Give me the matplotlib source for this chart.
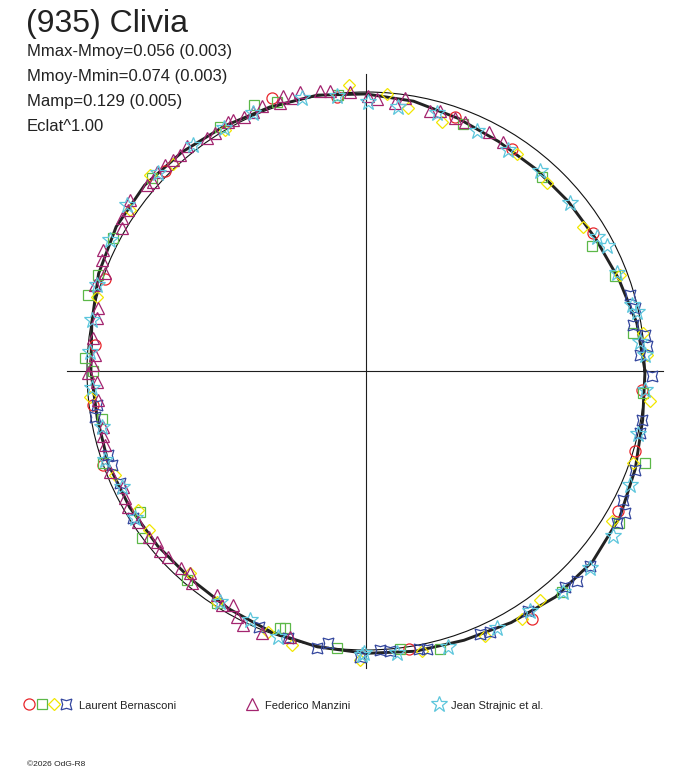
import numpy as np
import matplotlib.pyplot as plt
from matplotlib.patches import Circle

plt.rcParams['font.family'] = ['Liberation Sans', 'DejaVu Sans']

# ---- texts
title = "(935) Clivia"
stats_lines = ["Mmax-Mmoy=0.056 (0.003)", "Mmoy-Mmin=0.074 (0.003)",
               "Mamp=0.129 (0.005)", "Eclat^1.00"]
observers = ["Laurent Bernasconi", "Federico Manzini", "Jean Strajnic et al."]
copyright_txt = "\u00a92026 OdG-R8"

# ---- fitted light curve (phase in degrees, relative flux = radius)
fit_phase = [0, 10, 20, 30, 40, 50, 60, 70, 80, 90, 100, 110, 120, 130, 140, 150, 160, 170,
             180, 190, 200, 210, 220, 230, 240, 250, 260, 270, 280, 290, 300, 310, 320, 330, 340, 350]
fit_flux = [1.000, 0.986, 0.964, 0.950, 0.946, 0.946, 0.950, 0.964, 0.982, 0.993, 1.004, 1.007,
            1.014, 1.025, 1.036, 1.034, 1.020, 0.998, 0.986, 0.978, 0.982, 0.978, 0.975, 0.975,
            0.984, 0.995, 1.004, 1.012, 1.020, 1.027, 1.041, 1.057, 1.061, 1.050, 1.027, 1.007]

# ---- observations: Laurent Bernasconi (4 sessions)
lb1_phase = [109, 96.1, 135.2, 160.5, 174.5, 187.1, 199.7, 70.7, 56.8, 31.3, -4, -16.6, -29.1, -56.2, -81.3]
lb1_flux = [1.036, 0.989, 1.015, 0.993, 0.976, 0.985, 1.000, 0.964, 0.953, 0.953, 0.991, 1.006, 1.035, 1.069, 1.008]

lb2_phase = [112.9, 108.3, 95.7, 120.9, 138.0, 152.3, 160.3, 164.7, 177.4, 180.0, 190.2, 199.4, 211.9,
             216.7, 229.4, 237.3, 251.5, 252.5, 264.0, 68.5, 47.9, 28.9, 20.8, 8.1, -4.5, -18.2, -31.0,
             -48.5, -75.1, -83.0]
lb2_flux = [1.035, 1.017, 0.994, 1.020, 1.033, 1.023, 1.019, 1.032, 1.008, 0.977, 0.962, 0.998, 0.954,
            1.003, 0.987, 0.990, 0.972, 0.967, 1.000, 0.952, 0.939, 0.924, 0.955, 0.968, 0.995, 1.053, 1.056,
            1.059, 1.031, 1.004]

lb3_phase = [93.5, 120.3, 132.9, 137.8, 145.7, 164.6, 185.3, 202.5, 211.4, 216.2, 229.0, 237.1, 249.5,
             254.8, 268.8, 85.7, 80.9, 73.1, 55.2, 46.2, 33.5, 20.8, 7.8, 3.2, -6.0, -18.9, -31.4, -52.8,
             -57.9, -65.8, -78.7]
lb3_flux = [1.027, 1.001, 1.015, 1.045, 1.024, 1.001, 0.994, 0.974, 0.956, 0.966, 0.961, 0.985, 0.998,
            1.018, 1.036, 0.996, 0.954, 0.933, 0.947, 0.936, 0.934, 0.974, 1.003, 1.008, 1.023, 1.013, 1.032,
            1.031, 1.049, 1.041, 1.023]

lb4_phase = [187.2, 189.6, 198.1, 200.3, 204.5, 212.3, 247.2, 253.8, 259.9, 262.1, 268.8, 16.0, 13.1,
             9.7, 7.4, 5.1, 3.3, -1.0, -10.0, -12.7, -20.2, -26.7, -28.8, -31.2, -41.1, -44.9, -47.3,
             -56.0, -64.6, -66.6, -77.7, -79.3, -85.1, -87.1]
lb4_flux = [0.973, 0.985, 0.971, 0.972, 0.969, 0.987, 0.994, 0.998, 1.010, 0.985, 1.024, 0.984, 0.990,
            0.972, 1.008, 1.010, 0.984, 1.024, 1.003, 1.006, 1.028, 1.032, 1.060, 1.051, 1.065, 1.067, 1.052,
            1.039, 1.036, 1.027, 1.020, 1.014, 1.007, 1.002]

# ---- Federico Manzini
fm_phase = [103.3, 99.3, 97.3, 93.3, 106.7, 105.2, 107.8, 111.5, 113.5, 115.7, 117.9, 118.9, 122.3,
            124.4, 128.6, 130.7, 132.4, 134.3, 136.4, 138.3, 139.7, 144.1, 145.9, 148.0, 149.7, 155.3,
            157.2, 159.5, 162.4, 166.8, 168.9, 173.2, 176.6, 178.7, 180.5, 182.3, 186.2, 192.0, 194.0,
            195.8, 201.5, 205.5, 207.8, 209.7, 213.5, 217.3, 219.2, 221.2, 223.2, 226.9, 229.0, 230.6,
            236.3, 238.3, 240.4, 242.2, 244.2, 248.3, 254.0, 89.5, 87.7, 83.8, 81.9, 76.2, 74.1, 70.6,
            68.3, 62.9, 59.1]
fm_flux = [1.029, 1.017, 1.012, 1.003, 1.030, 1.013, 1.008, 1.019, 1.013, 1.012, 1.018, 1.021, 1.010,
           1.011, 1.030, 1.022, 1.024, 1.031, 1.036, 1.021, 1.031, 1.045, 1.029, 1.033, 1.014, 1.037,
           1.028, 0.999, 1.019, 0.985, 0.984, 0.984, 0.973, 0.978, 0.995, 0.966, 0.965, 0.962, 0.970,
           0.972, 0.986, 0.963, 0.977, 0.981, 0.979, 0.980, 0.968, 0.982, 0.972, 0.968, 0.961, 0.985,
           0.965, 0.985, 0.964, 0.995, 1.011, 1.012, 0.990, 0.987, 0.974, 0.965, 0.987, 0.960, 0.969, 0.960,
           0.960, 0.964, 0.957]

# ---- Jean Strajnic et al.
js_phase = [103.3, 96.1, 89.5, 113.6, 120.4, 127.4, 136.4, 145.3, 152.9, 162.3, 169.5, 176.0, 183.6,
            191.9, 198.8, 205.3, 212.5, 237.7, 245.0, 251.7, 269.1, 83.0, 74.7, 65.3, 57.2, 49.0, 39.5,
            30.2, 27.4, 21.4, 14.0, 12.3, 6.0, 3.2, -3.8, -13.1, -23.4, -33.7, -41.3, -48.3, -55.7,
            -63.1, -73.4, -83.8, -90.5]
js_flux = [1.004, 0.992, 0.965, 1.008, 1.009, 1.019, 1.028, 1.044, 1.031, 1.013, 1.000, 0.992, 0.985,
           0.968, 0.988, 0.969, 0.982, 0.978, 0.985, 1.003, 1.018, 0.953, 0.960, 0.948, 0.941, 0.950, 0.947,
           0.957, 0.972, 0.965, 0.982, 0.993, 0.987, 1.001, 1.002, 1.002, 1.031, 1.066, 1.069, 1.063, 1.043,
           1.034, 1.032, 1.016, 1.010]

red = '#e8252a'
green = '#5cb848'
yellow = '#f2e600'
blue = '#34479e'
purple = '#a3246f'
cyan = '#5cc6dc'
ink = '#1e1e1e'

styles = [
    (lb1_phase, lb1_flux, dict(marker='o', ms=8, mec=red)),
    (lb2_phase, lb2_flux, dict(marker='s', ms=7, mec=green)),
    (lb3_phase, lb3_flux, dict(marker='D', ms=6.5, mec=yellow)),
    (lb4_phase, lb4_flux, dict(marker=(4, 1, 45), ms=11, mec=blue)),
    (fm_phase, fm_flux, dict(marker='^', ms=8, mec=purple)),
    (js_phase, js_flux, dict(marker='*', ms=12, mec=cyan)),
]


def to_xy(phase, flux):
    a = np.radians(phase)
    f = np.asarray(flux)
    return f * np.cos(a), f * np.sin(a)


W, H = 688, 768
R_PX = 279          # radius of the mean-flux circle in pixels
CX, CY = 366, 371   # centre of the polar plot in pixels
lim = 1.15

fig = plt.figure(figsize=(W / 100, H / 100), dpi=100)
ax = fig.add_axes([(CX - lim * R_PX) / W, (H - CY - lim * R_PX) / H,
                   2 * lim * R_PX / W, 2 * lim * R_PX / H])
ax.set_xlim(-lim, lim)
ax.set_ylim(-lim, lim)
ax.axis('off')

# cross and mean circle
ax.plot([-1.072, 1.065], [0, 0], color=ink, lw=0.8)
ax.plot([0, 0], [-1.065, 1.065], color=ink, lw=0.8)
ax.add_patch(Circle((0, 0), 1.0, fill=False, lw=0.8, ec='#111111'))

# fitted curve (closed)
fx, fy = to_xy(fit_phase + fit_phase[:1], fit_flux + fit_flux[:1])
ax.plot(fx, fy, color='#222222', lw=2.1, solid_joinstyle='round')

for ph, fl, st in styles:
    x, y = to_xy(ph, fl)
    ax.plot(x, y, ls='none', mfc='none', mew=0.9, **st)

# overlay in pixel coordinates for texts and legend
lax = fig.add_axes([0, 0, 1, 1])
lax.set_xlim(0, W)
lax.set_ylim(H, 0)
lax.axis('off')

lax.text(26, 32, title, fontsize=23, color='#222222', va='baseline')
for i, line in enumerate(stats_lines):
    lax.text(27, 56 + i * 25, line, fontsize=12, color='#222222', va='baseline')

leg_y = 704
lax.plot([29], [leg_y], marker='o', ms=8, mfc='none', mec=red, mew=0.9)
lax.plot([41.5], [leg_y], marker='s', ms=7, mfc='none', mec=green, mew=0.9)
lax.plot([54], [leg_y], marker='D', ms=6.5, mfc='none', mec=yellow, mew=0.9)
lax.plot([66], [leg_y], marker=(4, 1, 45), ms=11, mfc='none', mec=blue, mew=0.9)
lax.text(79, 709, observers[0], fontsize=8, color='#222222', va='baseline')
lax.plot([252], [leg_y], marker='^', ms=8, mfc='none', mec=purple, mew=0.9)
lax.text(265, 709, observers[1], fontsize=8, color='#222222', va='baseline')
lax.plot([438.5], [leg_y], marker='*', ms=12, mfc='none', mec=cyan, mew=0.9)
lax.text(451, 709, observers[2], fontsize=8, color='#222222', va='baseline')

lax.text(27, 766, copyright_txt, fontsize=6, color='#222222', va='baseline')

fig.savefig('out.png', dpi=100)
